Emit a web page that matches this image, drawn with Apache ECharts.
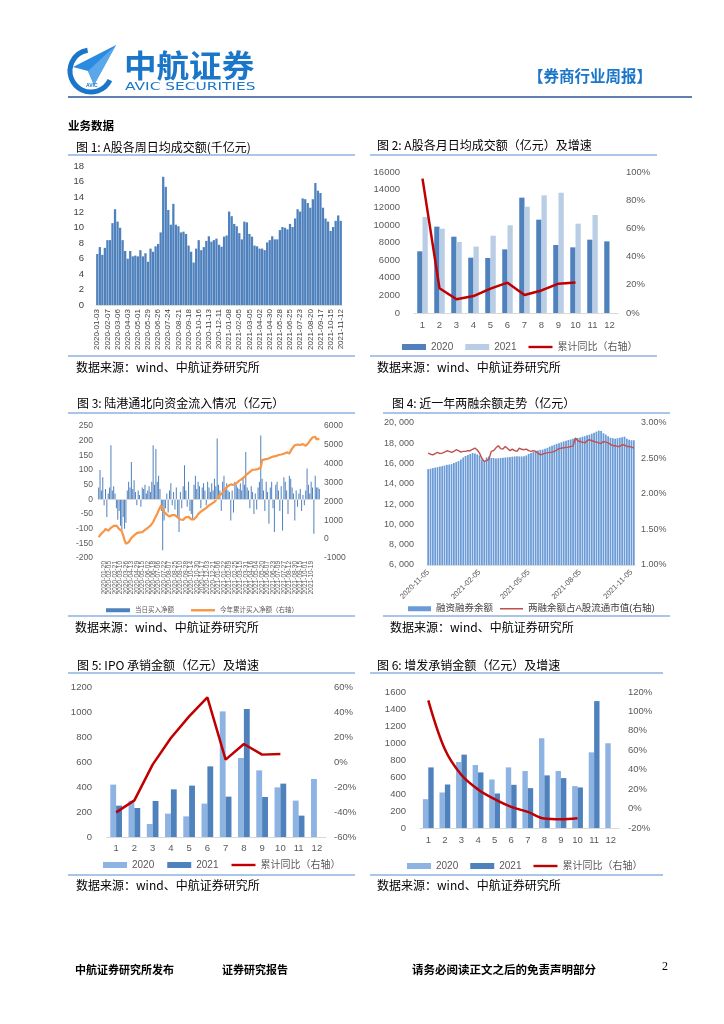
<!DOCTYPE html>
<html><head><meta charset="utf-8">
<script src="https://cdn.jsdelivr.net/npm/echarts/dist/echarts.min.js"></script>
<style>html,body{margin:0;padding:0;background:#fff;}#c{width:724px;height:1024px;}</style>
</head><body><div id="c"></div>
<script>
// ---------- Figure 1: weekly average daily turnover (千亿元) ----------
const weeklyTurnover = [6.6,7.5,6.5,7.4,8.4,8.4,10.6,12.4,10.8,10.0,
 8.4,7.0,6.0,7.0,6.3,6.4,6.3,7.1,6.3,6.7,
 5.6,7.3,6.9,7.6,7.9,9.4,16.6,15.3,12.3,10.4,
 13.1,10.4,10.2,9.4,9.5,9.2,7.7,6.9,5.5,7.3,
 8.4,7.1,7.5,8.3,8.9,8.2,8.4,8.6,7.8,7.55,
 8.85,9.0,12.1,11.5,10.5,10.2,9.3,8.5,10.8,10.7,
 9.2,8.85,7.7,7.6,7.3,7.3,7.1,8.1,8.4,8.9,
 8.5,8.5,9.7,10.1,10.0,9.8,10.5,10.1,11.2,12.4,
 12.1,13.8,13.7,13.2,12.6,13.7,15.8,14.8,14.5,12.6,
 11.2,10.8,9.6,10.1,10.9,11.6,10.9];

// ---------- Figure 2: monthly average daily turnover (亿元) ----------
const months = ['1','2','3','4','5','6','7','8','9','10','11','12'];
const turnover2020 = [7000,9800,8660,6280,6240,7220,13090,10590,7720,7450,8320,8130];
const turnover2021 = [10890,9570,8060,7530,8770,9950,12060,13350,13650,10140,11120];
const turnoverYoY = [95.3,17.5,9.7,12.0,17.3,21.5,12.8,16.0,20.8,21.7];

// ---------- Figure 3: northbound flows (亿元) ----------
const flowDaily = [40,100,30,75,-20,35,-60,20,40,184,
 30,45,20,-30,-70,-40,-90,-105,-60,-100,
 -80,30,60,40,127,35,65,25,-20,30,
 15,-25,40,35,50,20,30,45,25,60,
 184,50,172,60,80,35,-40,-174,-72,-30,
 20,-45,30,55,-20,25,-35,40,-60,-111,
 25,-30,45,116,30,-25,60,-40,-50,-70,
 50,80,35,60,45,-30,40,55,30,-20,
 60,40,25,55,30,70,45,207,50,30,
 -40,60,80,40,55,30,25,-72,30,-45,
 60,50,40,35,55,30,70,50,161,40,
 30,-30,45,25,-50,20,-35,40,60,218,
 70,30,-40,60,25,-83,40,60,-30,-111,
 50,60,30,-40,45,-106,75,60,30,-50,
 80,70,40,20,-72,30,-25,20,35,-40,
 15,-20,30,105,50,20,60,40,-117,80,
 40,40,35];
const flowCum = [110,200,300,370,430,540,500,450,520,600,
 660,700,770,720,640,540,500,420,200,-50,
 -240,-250,-170,-50,60,130,200,280,320,350,
 360,380,370,430,490,540,590,640,720,770,
 900,1070,1200,1350,1520,1680,1790,1600,1450,1360,
 1300,1250,1200,1230,1280,1250,1270,1250,1150,1070,
 1040,1000,1020,1100,1160,1150,1180,1160,1050,980,
 1050,1120,1200,1330,1430,1460,1480,1560,1620,1660,
 1720,1790,1840,1880,1910,1980,2060,2150,2270,2350,
 2400,2450,2560,2680,2750,2820,2860,2900,2910,2880,
 2860,2950,3040,3090,3130,3180,3220,3300,3400,3450,
 3520,3570,3620,3680,3700,3690,3700,3720,3750,3800,
 4190,4210,4230,4240,4260,4280,4320,4370,4380,4390,
 4400,4440,4460,4470,4490,4510,4530,4550,4600,4640,
 4550,4680,4800,4900,4980,5040,5020,5000,4990,5010,
 5040,5000,4950,4930,5100,5220,5320,5390,5420,5430,
 5290,5350,5330];

// ---------- Figure 4: margin balance (亿元) & ratio (%) ----------
const marginBalance = [15450,15500,15550,15600,15650,15700,15750,15800,15880,15900,
 15950,16050,16150,16250,16400,16600,16750,16850,16950,17040,
 17000,16900,16800,16400,16250,16600,16700,16550,16550,16500,
 16520,16550,16580,16600,16620,16640,16680,16700,16720,16700,
 16700,16720,16800,16950,17050,17150,17250,17300,17350,17380,
 17450,17550,17680,17750,17850,17950,18000,18100,18180,18250,
 18330,18380,18450,18500,18520,18580,18650,18700,18780,18850,
 18950,19050,19150,19250,19200,19000,18850,18700,18550,18500,
 18450,18500,18550,18600,18650,18450,18350,18300,18300];
const marginRatio = [2.576,2.56,2.55,2.57,2.586,2.57,2.576,2.59,2.609,2.6,
 2.586,2.6,2.624,2.61,2.59,2.6,2.6,2.61,2.61,2.63,
 2.647,2.62,2.576,2.5,2.46,2.47,2.49,2.6,2.61,2.65,
 2.68,2.64,2.633,2.67,2.64,2.61,2.633,2.61,2.6,2.647,
 2.63,2.624,2.633,2.61,2.6,2.61,2.6,2.576,2.553,2.56,
 2.576,2.58,2.586,2.59,2.6,2.62,2.64,2.647,2.65,2.656,
 2.66,2.67,2.675,2.79,2.75,2.74,2.73,2.72,2.75,2.765,
 2.75,2.74,2.73,2.72,2.71,2.74,2.73,2.72,2.7,2.68,
 2.68,2.67,2.67,2.694,2.69,2.67,2.67,2.66,2.647];
const marginTicks = ['2020-11-05','2021-02-05','2021-05-05','2021-08-05','2021-11-05'];

// ---------- Figure 5: IPO underwriting (亿元) ----------
const ipo2020 = [419,290,104,187,165,267,1005,632,533,397,291,464];
const ipo2021 = [251,232,288,381,411,565,323,1024,320,427,171];
const ipoYoY = [-40.3,-30.7,-2.1,19.2,36.5,51.7,1.9,14.4,5.9,6.4];

// ---------- Figure 6: follow-on offering underwriting (亿元) ----------
const seo2020 = [339,418,776,741,571,713,670,1056,670,493,890,997];
const seo2021 = [713,512,863,654,406,508,469,619,587,477,1493];
const seoYoY = [111.4,61.0,34.5,19.7,9.7,1.7,-3.4,-10.3,-11.0,-10.0];

// ---------- date categories ----------
function ymd(t){const d=new Date(t);return d.getUTCFullYear()+'-'+String(d.getUTCMonth()+1).padStart(2,'0')+'-'+String(d.getUTCDate()).padStart(2,'0');}
function weeklyDates(start,count,skip){const out=[];let t=Date.parse(start+'T00:00:00Z');while(out.length<count){const s=ymd(t);if(!skip.includes(s))out.push(s);t+=7*864e5;}return out;}
function weekdayDates(start,step,count){const out=[];let t=Date.parse(start+'T00:00:00Z');let k=0;while(out.length<count){const wd=new Date(t).getUTCDay();if(wd!==0&&wd!==6){if(k%step===0)out.push(ymd(t));k++;}t+=864e5;}return out;}
const weekDates = weeklyDates('2020-01-03', weeklyTurnover.length, ['2020-01-31']);
const flowDates = weekdayDates('2020-01-02', 3, Math.max(flowDaily.length, flowCum.length));
const marginDates = weekdayDates('2020-11-05', 3, marginBalance.length);

const legendText = {
  c2_2020:'2020', c2_2021:'2021', c2_yoy:'累计同比（右轴）',
  c3_daily:'当日买入净额', c3_cum:'今年累计买入净额（右轴）',
  c4_bal:'融资融券余额', c4_ratio:'两融余额占A股流通市值(右轴)',
  c5_2020:'2020', c5_2021:'2021', c5_yoy:'累计同比（右轴）',
  c6_2020:'2020', c6_2021:'2021', c6_yoy:'累计同比（右轴）'
};

const CJK = '"Noto Sans CJK SC"';
const NUM = '"Liberation Sans", "Noto Sans CJK SC"';
const AX = '#595959';
const SEP = '#8db3e2';
const BLUE = '#1a76c9';

function T(x,y,text,size,o){o=o||{};
  const el = {type:'text',x:x,y:y,silent:true,z:10,style:{text:text,
    font:(o.w||'normal')+' '+size+'px '+(o.f||CJK),fill:o.c||'#000',
    textAlign:o.a||'left',align:o.a||'left',textVerticalAlign:'middle',verticalAlign:'middle'}};
  if (o.sx) el.scaleX = o.sx;
  return el;}
function L(x1,y,x2,c,w){return {type:'line',silent:true,shape:{x1:x1,y1:y,x2:x2,y2:y},style:{stroke:c||SEP,lineWidth:w||1.5}};}

const graphics = [
  // logo
  {type:'arc',silent:true,shape:{cx:91,cy:71,r:21,startAngle:0.45,endAngle:4.55,clockwise:true},style:{stroke:BLUE,lineWidth:5,fill:null}},
  {type:'polygon',silent:true,shape:{points:[[116,45],[73,67],[88,71],[94,85]]},style:{fill:'#2b8be0'}},
  {type:'polygon',silent:true,shape:{points:[[116,45],[88,71],[94,85]]},style:{fill:'#5aa7ea'}},
  T(86,86,'AVIC',5,{w:'bold',f:NUM,c:BLUE}),
  T(124,65,'中航证券',31,{w:'bold',c:BLUE,sx:1.05}),
  T(125,87,'AVIC SECURITIES',11,{f:'"DejaVu Sans"',c:BLUE,sx:1.4}),
  T(652,76,'【券商行业周报】',15.5,{w:'bold',c:BLUE,a:'right'}),
  L(68,97,692,'#2f5597',1.5),
  T(68,126,'业务数据',11.5,{w:'bold'}),
  // figure 1
  T(76,147,'图 1: A股各周日均成交额(千亿元)',12), L(68,155,355), L(68,356,355), T(76,367,'数据来源：wind、中航证券研究所',12),
  // figure 2
  T(377,145,'图 2: A股各月日均成交额（亿元）及增速',12), L(370,155,657), L(370,356,657), T(377,367,'数据来源：wind、中航证券研究所',12),
  // figure 3
  T(77,403,'图 3: 陆港通北向资金流入情况（亿元）',12), L(68,413,355), L(68,616,355), T(75,627,'数据来源：wind、中航证券研究所',12),
  // figure 4
  T(392,403,'图 4: 近一年两融余额走势（亿元）',12), L(383,413,670), L(383,616,670), T(390,627,'数据来源：wind、中航证券研究所',12),
  // figure 5
  T(77,665,'图 5: IPO 承销金额（亿元）及增速',12), L(68,673,355), L(68,875,355), T(76,885,'数据来源：wind、中航证券研究所',12),
  // figure 6
  T(377,665,'图 6: 增发承销金额（亿元）及增速',12), L(370,673,663), L(370,875,663), T(377,885,'数据来源：wind、中航证券研究所',12),
  // footer
  T(75,970,'中航证券研究所发布',11,{w:'bold'}),
  T(222,970,'证券研究报告',11,{w:'bold'}),
  T(412,970,'请务必阅读正文之后的免责声明部分',11.5,{w:'bold'}),
  T(662,967,'2',12,{f:'"Liberation Serif"'})
];

const plain = v => String(v);
function yAx(grid,min,max,interval,o){o=o||{};
  return {type:'value',gridIndex:grid,min:min,max:max,interval:interval,position:o.pos||'left',
    splitLine:{show:false},axisLine:{show:false},axisTick:{show:false},
    axisLabel:{color:o.c||AX,fontFamily:NUM,fontSize:o.fs||9.5,margin:o.m||8,formatter:o.fmt||plain}};}
function xAx(grid,data,o){o=o||{};
  return {type:'category',gridIndex:grid,data:data,boundaryGap:true,
    axisTick:{show:false},axisLine:{show:o.line!==false,onZero:false,lineStyle:{color:'#d9d9d9'}},
    axisLabel:{color:o.c||AX,fontFamily:NUM,fontSize:o.fs||9.5,margin:o.m||8,interval:o.iv===undefined?0:o.iv,rotate:o.rot||0}};}
const LINE_ICON = 'path://M0,0H30V3H0Z';
const THIN_ICON = 'path://M0,0H30V2H0Z';
function legendItems(names,lineName,icon){return names.map(n=>n===lineName?{name:n,icon:icon||LINE_ICON}:{name:n,icon:'rect'});}
const pct = v => v + '%';

const option = {
  animation:false,
  backgroundColor:'#fff',
  graphic:{elements:graphics},
  grid:[
    {left:96,top:166,width:246,height:139},
    {left:414,top:172,width:204,height:141},
    {left:98,top:426,width:222,height:132},
    {left:427,top:423,width:208,height:142},
    {left:107,top:687,width:219,height:150},
    {left:420,top:692,width:199,height:136}
  ],
  xAxis:[
    xAx(0,weekDates,{iv:3,rot:90,fs:8,m:4,c:'#404040'}),
    xAx(1,months,{m:8}),
    xAx(2,flowDates,{iv:3,rot:90,fs:6.5,m:3,line:false}),
    xAx(3,marginDates,{iv:(i,v)=>marginTicks.includes(v),rot:45,fs:7.5,m:6}),
    xAx(4,months,{m:7}),
    xAx(5,months,{m:8})
  ],
  yAxis:[
    yAx(0,0,18,2,{m:12,c:'#404040'}),
    yAx(1,0,16000,2000,{m:14}),
    yAx(1,0,100,20,{pos:'right',m:8,fmt:pct}),
    yAx(2,-200,250,50,{m:5,fs:8.5}),
    yAx(2,-1000,6000,1000,{pos:'right',m:4,fs:8.5}),
    yAx(3,6000,20000,2000,{m:13,fs:9,fmt:v=>(v/1000)+', 000'}),
    yAx(3,1,3,0.5,{pos:'right',m:6,fs:9,fmt:v=>v.toFixed(2)+'%'}),
    yAx(4,0,1200,200,{m:15}),
    yAx(4,-60,60,20,{pos:'right',m:8,fmt:pct}),
    yAx(5,0,1600,200,{m:14}),
    yAx(5,-20,120,20,{pos:'right',m:9,fmt:pct})
  ],
  legend:[
    {data:legendItems(['c2_2020','c2_2021','c2_yoy'],'c2_yoy'),left:397,top:337,itemWidth:24,itemHeight:6,itemGap:12,selectedMode:false,formatter:n=>legendText[n],textStyle:{fontSize:10,color:AX,fontFamily:NUM}},
    {data:legendItems(['c3_daily','c3_cum'],'c3_cum'),left:101,top:602,itemWidth:24,itemHeight:4,itemGap:17,selectedMode:false,formatter:n=>legendText[n],textStyle:{fontSize:6.5,color:AX,fontFamily:NUM}},
    {data:legendItems(['c4_bal','c4_ratio'],'c4_ratio',THIN_ICON),left:403,top:599,itemWidth:23,itemHeight:5,itemGap:7,selectedMode:false,formatter:n=>legendText[n],textStyle:{fontSize:9.5,color:'#404040',fontFamily:NUM}},
    {data:legendItems(['c5_2020','c5_2021','c5_yoy'],'c5_yoy'),left:98,top:855,itemWidth:24,itemHeight:6,itemGap:13,selectedMode:false,formatter:n=>legendText[n],textStyle:{fontSize:10,color:AX,fontFamily:NUM}},
    {data:legendItems(['c6_2020','c6_2021','c6_yoy'],'c6_yoy'),left:402,top:856,itemWidth:24,itemHeight:6,itemGap:12,selectedMode:false,formatter:n=>legendText[n],textStyle:{fontSize:10,color:AX,fontFamily:NUM}}
  ],
  series:[
    {name:'c1_bar',type:'bar',xAxisIndex:0,yAxisIndex:0,data:weeklyTurnover,itemStyle:{color:'#4f81bd'},barCategoryGap:'10%'},
    {name:'c2_2020',type:'bar',xAxisIndex:1,yAxisIndex:1,data:turnover2020,itemStyle:{color:'#4f81bd'},barGap:'0%',barCategoryGap:'38%'},
    {name:'c2_2021',type:'bar',xAxisIndex:1,yAxisIndex:1,data:turnover2021,itemStyle:{color:'#b9cde5'},barGap:'0%',barCategoryGap:'38%'},
    {name:'c2_yoy',type:'line',xAxisIndex:1,yAxisIndex:2,data:turnoverYoY,symbol:'none',lineStyle:{color:'#c00000',width:2.5},itemStyle:{color:'#c00000'}},
    {name:'c3_daily',type:'bar',xAxisIndex:2,yAxisIndex:3,data:flowDaily,barWidth:1,itemStyle:{color:'#4f81bd'},
      markLine:{silent:true,symbol:'none',label:{show:false},data:[{yAxis:0}],lineStyle:{color:'#d9d9d9',type:'solid',width:1}}},
    {name:'c3_cum',type:'line',xAxisIndex:2,yAxisIndex:4,data:flowCum,symbol:'none',lineStyle:{color:'#f79646',width:2.2},itemStyle:{color:'#f79646'}},
    {name:'c4_bal',type:'bar',xAxisIndex:3,yAxisIndex:5,data:marginBalance,itemStyle:{color:'#6b9bd6'},barCategoryGap:'25%'},
    {name:'c4_ratio',type:'line',xAxisIndex:3,yAxisIndex:6,data:marginRatio,symbol:'none',lineStyle:{color:'#c0504d',width:1.4},itemStyle:{color:'#c0504d'}},
    {name:'c5_2020',type:'bar',xAxisIndex:4,yAxisIndex:7,data:ipo2020,itemStyle:{color:'#8db3e2'},barGap:'0%',barCategoryGap:'36%'},
    {name:'c5_2021',type:'bar',xAxisIndex:4,yAxisIndex:7,data:ipo2021,itemStyle:{color:'#4f81bd'},barGap:'0%',barCategoryGap:'36%'},
    {name:'c5_yoy',type:'line',xAxisIndex:4,yAxisIndex:8,data:ipoYoY,symbol:'none',lineStyle:{color:'#c00000',width:2.5},itemStyle:{color:'#c00000'}},
    {name:'c6_2020',type:'bar',xAxisIndex:5,yAxisIndex:9,data:seo2020,itemStyle:{color:'#8db3e2'},barGap:'0%',barCategoryGap:'35%'},
    {name:'c6_2021',type:'bar',xAxisIndex:5,yAxisIndex:9,data:seo2021,itemStyle:{color:'#4f81bd'},barGap:'0%',barCategoryGap:'35%'},
    {name:'c6_yoy',type:'line',xAxisIndex:5,yAxisIndex:10,data:seoYoY,symbol:'none',smooth:0.35,lineStyle:{color:'#c00000',width:2.5},itemStyle:{color:'#c00000'}}
  ]
};
const chart = echarts.init(document.getElementById('c'), null, {width:724,height:1024});
chart.setOption(option);
</script></body></html>
